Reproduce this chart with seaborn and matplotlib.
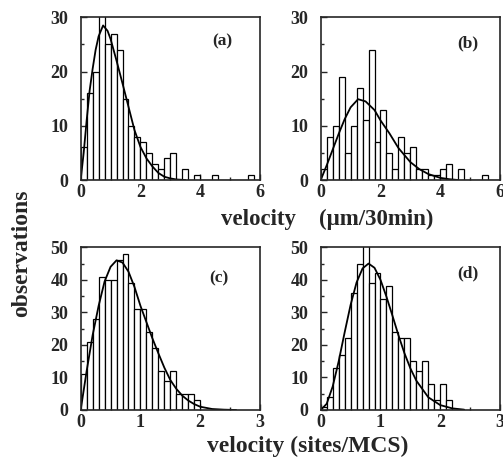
import numpy as np
import pandas as pd
import matplotlib
matplotlib.use("Agg")
import matplotlib.pyplot as plt
import seaborn as sns
from matplotlib.ticker import MultipleLocator

# histogram counts (bin width 0.2 for a/b, 0.1 for c/d)
counts_a = [6, 16, 20, 31, 25, 27, 24, 15, 10, 8, 7, 5, 3, 2, 4, 5, 0, 2, 0, 1,
            0, 0, 1, 0, 0, 0, 0, 0, 1, 0]
counts_b = [2, 8, 10, 19, 5, 10, 17, 11, 24, 7, 13, 5, 2, 8, 5, 6, 2, 2, 1, 1,
            2, 3, 0, 2, 0, 0, 0, 1, 0, 0]
counts_c = [11, 21, 28, 41, 40, 40, 46, 48, 39, 31, 31, 24, 19, 12, 9, 12, 5, 5, 5, 3]
counts_d = [1, 4, 13, 17, 22, 36, 45, 52, 39, 42, 34, 38, 24, 22, 22, 15, 12, 15, 8, 3,
            8, 3]

# fitted curves
curve_a_x = [0, 0.1, 0.2, 0.3, 0.4, 0.5, 0.6, 0.75, 0.9, 1.0, 1.2, 1.4, 1.6, 1.8,
             2.0, 2.2, 2.4, 2.6, 2.8, 3.0, 3.2, 3.5]
curve_a_y = [0, 5, 11, 16.5, 20.5, 24, 26.5, 28.5, 27.5, 26, 22, 17.8, 13.5, 9.2,
             6.1, 4, 2.5, 1.3, 0.6, 0.3, 0.1, 0]
curve_b_x = [0, 0.2, 0.4, 0.6, 0.8, 1.0, 1.25, 1.5, 1.8, 2.0, 2.3, 2.6, 3.0, 3.3,
             3.6, 4.0, 4.3, 4.6]
curve_b_y = [0, 2.7, 5.6, 8.5, 11.2, 13.4, 14.9, 14.5, 12.9, 11, 8.6, 5.9, 3.3, 2.0,
             1.1, 0.4, 0.15, 0]
curve_c_x = [0, 0.1, 0.2, 0.3, 0.4, 0.5, 0.6, 0.7, 0.8, 0.9, 1.0, 1.1, 1.2, 1.3,
             1.4, 1.5, 1.6, 1.7, 1.8, 1.9, 2.0, 2.2, 2.4, 2.6]
curve_c_y = [0, 12, 23, 32, 39.5, 44, 46, 45.3, 42.5, 37.8, 32, 27, 22, 17.4, 13,
             9.2, 6.5, 4.4, 2.9, 1.8, 1.0, 0.3, 0.1, 0]
curve_d_x = [0, 0.1, 0.2, 0.3, 0.4, 0.5, 0.6, 0.7, 0.8, 0.9, 1.0, 1.1, 1.2, 1.3,
             1.4, 1.5, 1.6, 1.8, 2.0, 2.2, 2.4]
curve_d_y = [0, 1.9, 7.2, 14.9, 23.8, 32.3, 39.2, 43.5, 45, 43.7, 40, 34.8, 29,
             23, 17.5, 12.8, 9, 3.9, 1.5, 0.5, 0.1]

panels = [
    ("(a)", counts_a, 0.2, curve_a_x, curve_a_y, 6, 30, [0.1604, 0.6112, 0.3565, 0.3514], (0.79, 0.85)),
    ("(b)", counts_b, 0.2, curve_b_x, curve_b_y, 6, 30, [0.6376, 0.6112, 0.3565, 0.3514], (0.82, 0.84)),
    ("(c)", counts_c, 0.1, curve_c_x, curve_c_y, 3, 50, [0.1604, 0.1145, 0.3565, 0.3514], (0.77, 0.81)),
    ("(d)", counts_d, 0.1, curve_d_x, curve_d_y, 3, 50, [0.6376, 0.1145, 0.3565, 0.3514], (0.82, 0.84)),
]

sns.set_style("ticks")
plt.rcParams["font.family"] = ["Liberation Serif", "DejaVu Serif"]
plt.rcParams["font.weight"] = "bold"

fig = plt.figure(figsize=(5.03, 4.63), dpi=100)

for label, counts, width, cx, cy, xmax, ymax, rect, lpos in panels:
    ax = fig.add_axes(rect)
    nb = len(counts)
    df = pd.DataFrame({"v": (np.arange(nb) + 0.5) * width, "n": counts})
    sns.histplot(data=df, x="v", weights="n", binwidth=width, binrange=(0, nb * width),
                 ax=ax, color="white", edgecolor="black", linewidth=0.9, alpha=1)
    sns.lineplot(x=cx, y=cy, ax=ax, color="black", linewidth=1.3)
    ax.set_xlim(0, xmax)
    ax.set_ylim(0, ymax)
    ax.set_xlabel("")
    ax.set_ylabel("")
    ax.xaxis.set_major_locator(MultipleLocator(xmax / 3))
    ax.xaxis.set_minor_locator(MultipleLocator(xmax / 6))
    ax.yaxis.set_major_locator(MultipleLocator(10))
    ax.yaxis.set_minor_locator(MultipleLocator(5))
    ax.tick_params(which="both", direction="in", width=1, labelsize=13)
    ax.tick_params(axis="x", pad=3)
    ax.tick_params(axis="y", pad=9)
    ax.tick_params(which="major", length=4)
    ax.tick_params(which="minor", length=2)
    for s in ax.spines.values():
        s.set_visible(True)
        s.set_linewidth(1.2)
    for t in ax.get_xticklabels() + ax.get_yticklabels():
        t.set_fontweight("bold")
    ax.text(lpos[0], lpos[1], label, transform=ax.transAxes, ha="center",
            va="center", fontsize=12.5, fontweight="bold")

fig.text(327 / 503, 1 - 219 / 463, "velocity    (\u03bcm/30min)", ha="center",
         va="center", fontsize=16.5, fontweight="bold")
fig.text(308 / 503, 1 - 446 / 463, "velocity (sites/MCS)", ha="center",
         va="center", fontsize=17, fontweight="bold")
fig.text(22 / 503, 1 - 253 / 463, "observations", rotation=90, ha="center",
         va="center", fontsize=17, fontweight="bold")

fig.savefig("out.png", dpi=100)
